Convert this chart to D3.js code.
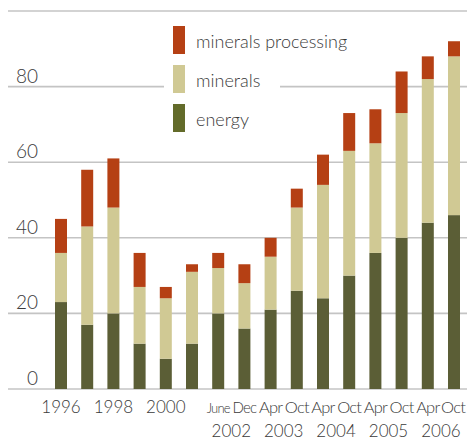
<!DOCTYPE html>
<html>
<head>
<meta charset="utf-8">
<script src="https://cdn.jsdelivr.net/npm/d3@7"></script>
<style>
  body { margin: 0; background: #fff; }
  svg text { font-family: Lato, "Open Sans", sans-serif; font-weight: 300; fill: #3a3a3a; }
</style>
</head>
<body>
<svg width="467" height="441"></svg>
<script>
// Values
var categories = ["1996", "1997", "1998", "1999", "2000", "2001", "June 2002", "Dec 2002",
    "Apr 2003", "Oct 2003", "Apr 2004", "Oct 2004", "Apr 2005", "Oct 2005", "Apr 2006", "Oct 2006"];
var energy = [23, 17, 20, 12, 8, 12, 20, 16, 21, 26, 24, 30, 36, 40, 44, 46];
var minerals = [13, 26, 28, 15, 16, 19, 12, 12, 14, 22, 30, 33, 29, 33, 38, 42];
var processing = [9, 15, 13, 9, 3, 2, 4, 5, 5, 5, 8, 10, 9, 11, 6, 4];

var tickLabels = ["1996", "", "1998", "", "2000", "", "June", "Dec", "Apr", "Oct", "Apr", "Oct", "Apr", "Oct", "Apr", "Oct"];
var yearLabels = ["2002", "2003", "2004", "2005", "2006"];
var yearPairs = [[6, 7], [8, 9], [10, 11], [12, 13], [14, 15]];
var yTicks = [0, 20, 40, 60, 80];

var keys = ["energy", "minerals", "processing"];
var names = { energy: "energy", minerals: "minerals", processing: "minerals processing" };
var colors = { energy: "#5b5e36", minerals: "#d0c994", processing: "#b54014" };
var legendColors = { energy: "#636b2a", minerals: "#d0c994", processing: "#b54014" };

var svg = d3.select("svg");

var x = d3.scalePoint().domain(categories).range([61, 454]);
var barW = 12;
var y = d3.scaleLinear().domain([0, 100]).range([389, 11]);

// gridlines
svg.append("g")
    .selectAll("line")
    .data([0, 20, 40, 60, 80, 100])
    .enter().append("line")
    .attr("x1", 8).attr("x2", 467)
    .attr("y1", function(d) { return y(d); })
    .attr("y2", function(d) { return y(d); })
    .attr("stroke", "#c4c4c4")
    .attr("stroke-width", 1.6);

// y labels sit above their gridline
svg.append("g")
    .selectAll("text")
    .data(yTicks)
    .enter().append("text")
    .attr("x", 38)
    .attr("y", function(d) { return y(d) - 4; })
    .attr("text-anchor", "end")
    .style("font-size", "19px")
    .text(function(d) { return d; });

// legend, top item first (white box hides the gridline behind it)
var legend = svg.append("g")
    .selectAll("g")
    .data(keys.slice().reverse())
    .enter().append("g")
    .attr("transform", function(d, i) { return "translate(173," + (26 + i * 39) + ")"; });

legend.append("rect")
    .attr("x", -9).attr("y", -4)
    .attr("width", function(d) { return d == "minerals" ? 116 : 190; })
    .attr("height", 36)
    .attr("fill", "#fff");

// stacked bars
var table = categories.map(function(c, i) {
    return { cat: c, energy: energy[i], minerals: minerals[i], processing: processing[i] };
});
var series = d3.stack().keys(keys)(table);

svg.append("g")
    .selectAll("g")
    .data(series)
    .enter().append("g")
    .attr("fill", function(d) { return colors[d.key]; })
    .selectAll("rect")
    .data(function(d) { return d; })
    .enter().append("rect")
    .attr("x", function(d) { return x(d.data.cat) - barW / 2; })
    .attr("y", function(d) { return y(d[1]); })
    .attr("width", barW)
    .attr("height", function(d) { return y(d[0]) - y(d[1]); });

legend.append("rect")
    .attr("width", 12).attr("height", 28)
    .attr("fill", function(d) { return legendColors[d]; });

legend.append("text")
    .attr("x", 23)
    .attr("y", 22)
    .style("font-size", "18px")
    .text(function(d) { return names[d]; });

// x labels, first row; month names shrink until they fit one bar step
svg.append("g")
    .selectAll("text")
    .data(categories)
    .enter().append("text")
    .attr("x", function(d) { return x(d); })
    .attr("y", 413)
    .attr("text-anchor", "middle")
    .style("font-size", "17px")
    .text(function(d, i) { return tickLabels[i]; })
    .each(function(d, i) {
        if (i < 6) return;
        var t = d3.select(this).style("letter-spacing", "-0.8px");
        var fs = 17;
        while (this.getComputedTextLength() > 24 && fs > 11) {
            fs -= 0.5;
            t.style("font-size", fs + "px");
        }
        var w = this.getComputedTextLength();
        if (x(d) + w / 2 > 465) t.attr("x", 465 - w / 2);
    });

// second row: years under each pair
svg.append("g")
    .selectAll("text")
    .data(yearLabels)
    .enter().append("text")
    .attr("x", function(d, i) {
        var p = yearPairs[i];
        return (x(categories[p[0]]) + x(categories[p[1]])) / 2;
    })
    .attr("y", 437)
    .attr("text-anchor", "middle")
    .style("font-size", "17px")
    .text(function(d) { return d; });
</script>
</body>
</html>
